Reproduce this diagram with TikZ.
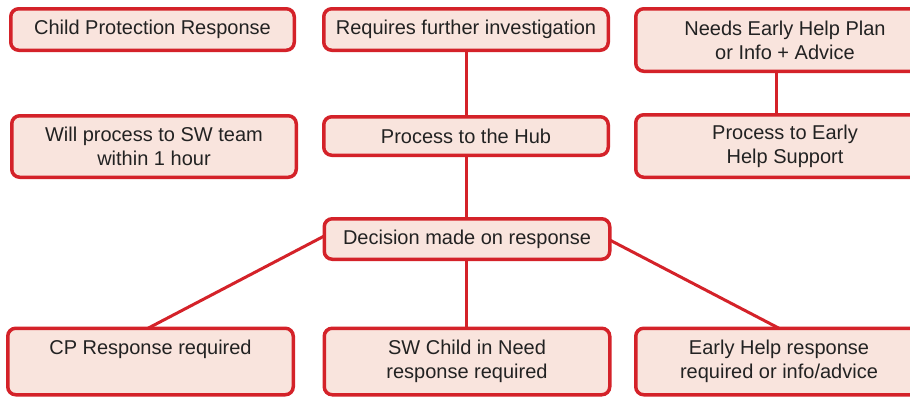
\documentclass[tikz,border=0pt]{standalone}
\usepackage{fontspec}
\setmainfont{Liberation Sans}
\usetikzlibrary{backgrounds}
\definecolor{boxred}{HTML}{D42229}
\definecolor{boxfill}{HTML}{F9E4DD}
\definecolor{boxtext}{HTML}{222222}
\newcommand{\uptext}[1]{\raisebox{4.5pt}{\begin{tabular}{@{}c@{}}#1\end{tabular}}}
\begin{document}
\begin{tikzpicture}[x=1pt,y=-1pt,
  box/.style={draw=boxred, fill=boxfill, line width=3.5pt, rounded corners=8pt,
    text=boxtext, align=center, inner sep=0pt, outer sep=0pt,
    font=\fontsize{20}{24}\selectfont},
  link/.style={draw=boxred, line width=3pt}]
\clip (0,0) rectangle (910,397);
\node[box, minimum width=283.5pt, minimum height=41.5pt] (cpr) at (152.5,29.5) {Child Protection Response};
\node[box, minimum width=284.5pt, minimum height=41.5pt] (rfi) at (466,29.5) {Requires further investigation};
\node[box, minimum width=298.5pt, minimum height=62.5pt] (ehp) at (785,40) {Needs Early Help Plan\\or Info + Advice};
\node[box, minimum width=284.5pt, minimum height=61.5pt] (wps) at (154,146.5) {Will process to SW team\\within 1 hour};
\node[box, minimum width=284.5pt, minimum height=38.5pt] (hub) at (466,136) {Process to the Hub};
\node[box, minimum width=298.5pt, minimum height=62.5pt] (ehs) at (785,146) {Process to Early\\Help Support};
\node[box, minimum width=285.5pt, minimum height=40.5pt] (dec) at (467,239) {Decision made on response};
\node[box, minimum width=285.5pt, minimum height=66.5pt] (cp) at (150.5,361.5) {\uptext{CP Response required\\\mbox{}}};
\node[box, minimum width=285.5pt, minimum height=66.5pt] (sw) at (467,361.5) {\uptext{SW Child in Need\\response required}};
\node[box, minimum width=286.5pt, minimum height=66.5pt] (ehr) at (779,361.5) {\uptext{Early Help response\\required or info/advice}};
\begin{pgfonlayer}{background}
\draw[link] (rfi.south) -- (hub.north);
\draw[link] (hub.south) -- (hub.south |- dec.north);
\draw[link] ([xshift=-9pt]ehp.south) -- ([xshift=-9pt]ehs.north);
\draw[link] ([yshift=3pt]dec.west) -- ([xshift=-2.5pt]cp.north);
\draw[link] (hub.south |- dec.south) -- (hub.south |- sw.north);
\draw[link] ([yshift=-1pt]dec.east) -- (ehr.north);
\end{pgfonlayer}
\end{tikzpicture}
\end{document}
